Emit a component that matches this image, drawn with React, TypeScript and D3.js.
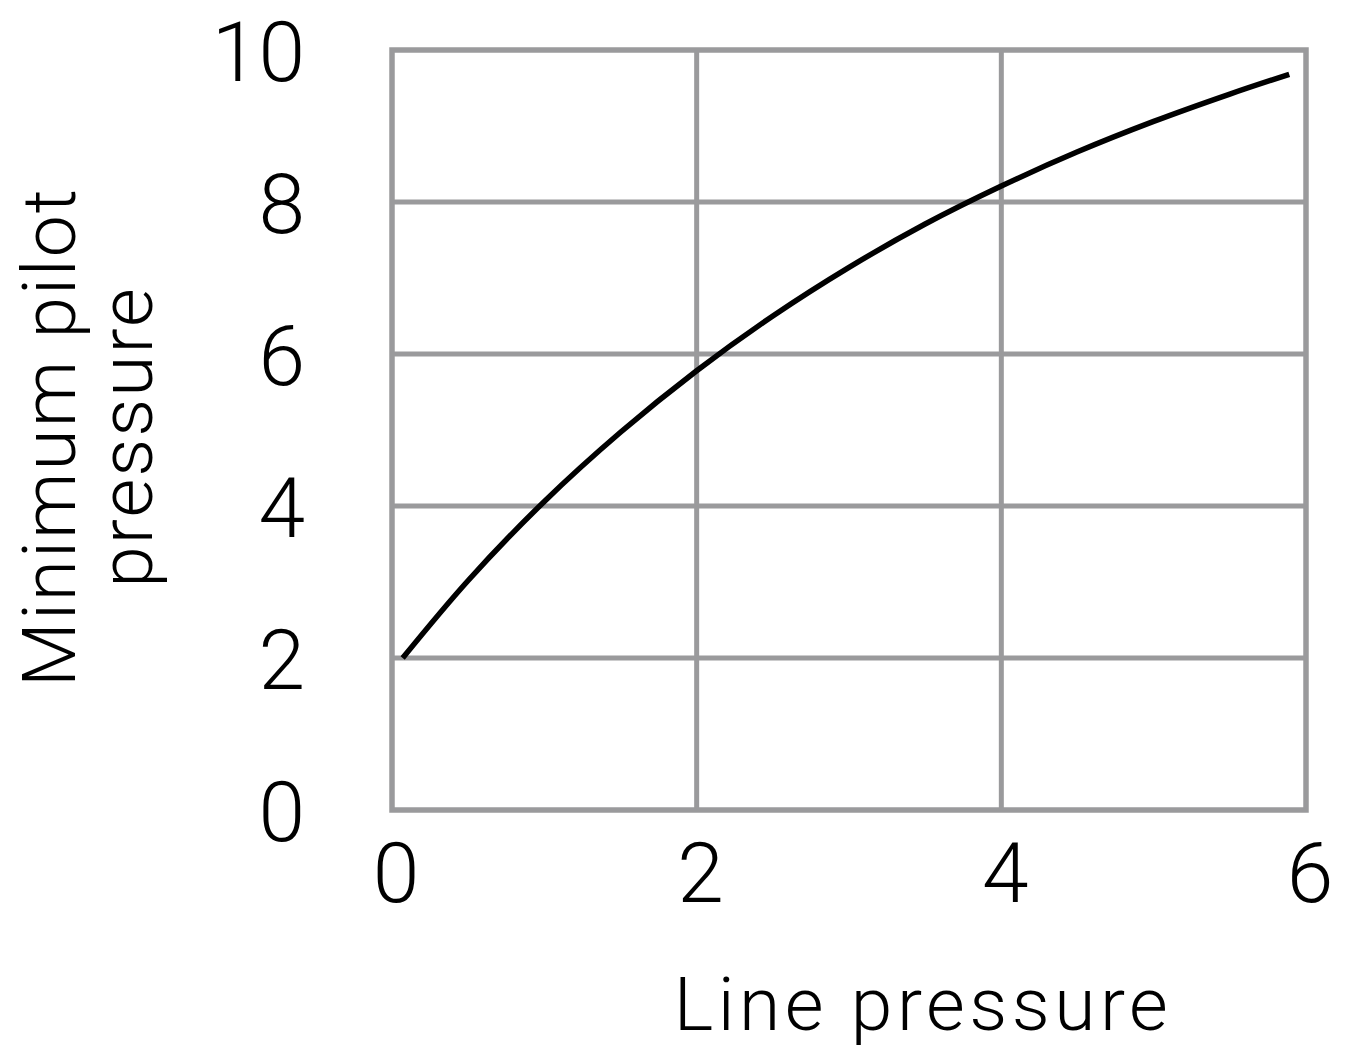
import React from "react";
import * as d3 from "d3";

const xTicks = [0, 2, 4, 6];
const yTicks = [0, 2, 4, 6, 8, 10];
const lineX = [0.07, 0.5, 1, 1.5, 2, 2.5, 3, 3.5, 4, 4.5, 5, 5.5, 5.89];
const lineY = [2.0, 3.02, 4.06, 4.97, 5.78, 6.5, 7.14, 7.71, 8.21, 8.66, 9.06, 9.42, 9.68];
const xLabel = "Line pressure";
const yLabelLines = ["Minimum pilot", "pressure"];

const W = 1359;
const H = 1057;
const FONT = "Roboto, 'DejaVu Sans', sans-serif";
const GRID = "#9a9a9c";

export default function App() {
  const x = d3.scaleLinear().domain([0, 6]).range([392, 1306]);
  const y = d3.scaleLinear().domain([0, 10]).range([810, 50]);
  const pts: [number, number][] = lineX.map((v, i) => [v, lineY[i]]);
  const line = d3
    .line<[number, number]>()
    .x((d) => x(d[0]))
    .y((d) => y(d[1]))
    .curve(d3.curveCatmullRom);

  return (
    <svg
      width={W}
      height={H}
      style={{ position: "absolute", left: 0, top: 0, background: "#fff" }}
    >
      <rect x={0} y={0} width={W} height={H} fill="#fff" />
      {xTicks.slice(1, -1).map((t) => (
        <line key={"gx" + t} x1={x(t)} x2={x(t)} y1={y(0)} y2={y(10)} stroke={GRID} strokeWidth={5} />
      ))}
      {yTicks.slice(1, -1).map((t) => (
        <line key={"gy" + t} x1={x(0)} x2={x(6)} y1={y(t)} y2={y(t)} stroke={GRID} strokeWidth={5} />
      ))}
      <rect
        x={x(0)}
        y={y(10)}
        width={x(6) - x(0)}
        height={y(0) - y(10)}
        fill="none"
        stroke={GRID}
        strokeWidth={5.5}
      />
      <path d={line(pts) || ""} fill="none" stroke="#000" strokeWidth={5.5} strokeLinecap="butt" />
      {xTicks.map((t) => (
        <text
          key={"tx" + t}
          x={x(t) + 4}
          y={902}
          textAnchor="middle"
          fontFamily={FONT}
          fontWeight={300}
          fontSize={84}
          fill="#000"
        >
          {t}
        </text>
      ))}
      {yTicks.map((t) => (
        <text
          key={"ty" + t}
          x={305}
          y={y(t) + 31}
          textAnchor="end"
          fontFamily={FONT}
          fontWeight={300}
          fontSize={84}
          fill="#000"
        >
          {t}
        </text>
      ))}
      <text
        x={923}
        y={1030}
        textAnchor="middle"
        fontFamily={FONT}
        fontWeight={300}
        fontSize={75}
        letterSpacing={4.5}
        fill="#000"
      >
        {xLabel}
      </text>
      {yLabelLines.map((s, i) => (
        <text
          key={"yl" + i}
          transform={`translate(${75 + i * 77}, 437) rotate(-90)`}
          textAnchor="middle"
          fontFamily={FONT}
          fontWeight={300}
          fontSize={75}
          letterSpacing={2}
          fill="#000"
        >
          {s}
        </text>
      ))}
    </svg>
  );
}
